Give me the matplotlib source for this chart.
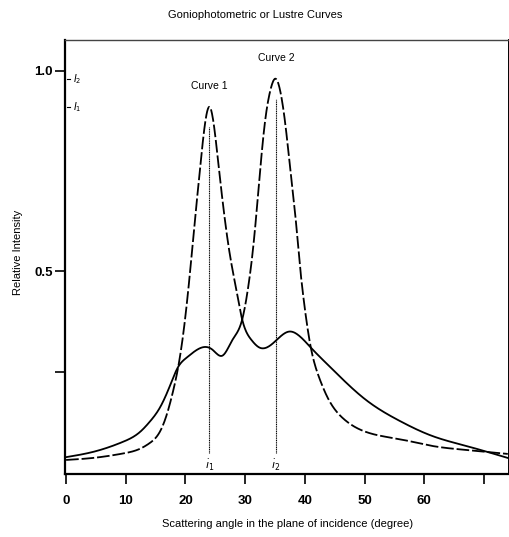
import matplotlib
matplotlib.use("Agg")
import matplotlib.pyplot as plt
import numpy as np

plt.rcParams['font.family'] = ['Liberation Sans Narrow', 'Liberation Sans', 'DejaVu Sans']

# Curve 1: sharp peak at i1, broad hump on the right
c1_x = [0, 4.5, 9.5, 12.4, 14, 15.7, 16.8, 17.9, 18.7, 19.5, 20.3, 21.0, 21.6, 22.4, 23.2,
        24.0, 24.8, 25.5, 26.3, 27.4, 28.5, 29.5, 31.0, 32.4, 34.6, 37.4, 39.0, 41.0, 44.0,
        50.2, 55.8, 61.3, 67.0, 74.0]
c1_y = [0.03, 0.035, 0.046, 0.058, 0.072, 0.10, 0.14, 0.20, 0.255, 0.33, 0.43, 0.535, 0.63,
        0.75, 0.86, 0.91, 0.86, 0.77, 0.665, 0.545, 0.455, 0.38, 0.33, 0.31, 0.32, 0.35,
        0.34, 0.31, 0.265, 0.18, 0.128, 0.09, 0.065, 0.035]

# Curve 2: broad hump on the left, sharp peak at i2
c2_x = [0, 4.5, 9.5, 12.4, 14.0, 15.7, 17.4, 18.7, 20.2, 22.7, 24.5, 26.2, 27.9, 29.5,
        30.5, 31.2, 31.8, 32.5, 33.3, 34.2, 35.1, 36.0, 36.7, 37.6, 38.4, 39.0, 39.8, 41.0,
        42.4, 44.0, 46.3, 50.2, 55.8, 61.3, 67.0, 74.0]
c2_y = [0.037, 0.05, 0.075, 0.10, 0.125, 0.16, 0.215, 0.26, 0.285, 0.31, 0.305, 0.29, 0.33,
        0.38, 0.46, 0.54, 0.63, 0.75, 0.87, 0.95, 0.98, 0.94, 0.87, 0.75, 0.64, 0.54, 0.43,
        0.31, 0.235, 0.18, 0.135, 0.10, 0.082, 0.065, 0.055, 0.045]

curve_labels = ["Curve 1", "Curve 2"]
peak_angles = [24.0, 35.1]
peak_labels = [r"$\dot{\imath}_1$", r"$\dot{\imath}_2$"]
intensity_labels = [r"$I_1$", r"$I_2$"]
x_ticks = [0, 10, 20, 30, 40, 50, 60, 70]
x_ticklabels = ["0", "10", "20", "30", "40", "50", "60", ""]
y_ticks = [0.25, 0.5, 1.0]
y_ticklabels = ["", "0.5", "1.0"]
split_angle = 29.5

fig = plt.figure(figsize=(5.10, 5.37), dpi=100)
W, H = 510, 537
ax = fig.add_axes([65.5 / W, 1 - 474 / H, (509 - 65.5) / W, (474 - 40) / H])
ax.set_xlim(-0.1, 74.2)
ax.set_ylim(-0.005, 1.0765)


def smooth(xs, ys, n=1200):
    """Natural cubic spline through the read points."""
    xs = np.asarray(xs, float)
    ys = np.asarray(ys, float)
    N = len(xs)
    h = np.diff(xs)
    A = np.zeros((N, N))
    b = np.zeros(N)
    A[0, 0] = 1
    A[-1, -1] = 1
    for i in range(1, N - 1):
        A[i, i - 1] = h[i - 1]
        A[i, i] = 2 * (h[i - 1] + h[i])
        A[i, i + 1] = h[i]
        b[i] = 6 * ((ys[i + 1] - ys[i]) / h[i] - (ys[i] - ys[i - 1]) / h[i - 1])
    M = np.linalg.solve(A, b)
    xf = np.linspace(xs[0], xs[-1], n)
    idx = np.clip(np.searchsorted(xs, xf) - 1, 0, N - 2)
    x0, x1 = xs[idx], xs[idx + 1]
    hh = h[idx]
    yf = (M[idx] * (x1 - xf) ** 3 / (6 * hh) + M[idx + 1] * (xf - x0) ** 3 / (6 * hh)
          + (ys[idx] / hh - M[idx] * hh / 6) * (x1 - xf)
          + (ys[idx + 1] / hh - M[idx + 1] * hh / 6) * (xf - x0))
    return xf, yf


lw = 1.3
dash = (7, 1.6)
x1, y1 = smooth(c1_x, c1_y)
x2, y2 = smooth(c2_x, c2_y)
ax.plot(x1[x1 <= split_angle + 0.05], y1[x1 <= split_angle + 0.05], color='black', lw=lw, dashes=dash)
ax.plot(x1[x1 >= split_angle], y1[x1 >= split_angle], color='black', lw=lw)
ax.plot(x2[x2 <= split_angle + 0.05], y2[x2 <= split_angle + 0.05], color='black', lw=lw)
ax.plot(x2[x2 >= split_angle], y2[x2 >= split_angle], color='black', lw=lw, dashes=dash)

# peak markers
peaks = [max(c1_y), max(c2_y)]
for a, p, lab in zip(peak_angles, peaks, peak_labels):
    ax.plot([a, a], [0.048, p - 0.05], color='black', lw=0.8, ls=(0, (1, 0.6)))
    ax.text(a, 0.035, lab, ha='center', va='top', fontsize=8)

ax.text(peak_angles[0], peaks[0] + 0.04, curve_labels[0], ha='center', va='bottom', fontsize=7.5)
ax.text(peak_angles[1] + 0.2, peaks[1] + 0.04, curve_labels[1], ha='center', va='bottom', fontsize=7.5)

for p, lab in zip(peaks, intensity_labels):
    ax.plot([0.2, 0.7], [p, p], color='black', lw=0.8)
    ax.text(1.2, p, lab, ha='left', va='center', fontsize=7)

ax.set_xticks(x_ticks)
ax.set_xticklabels(x_ticklabels, fontsize=9.5, fontweight='bold')
ax.set_yticks(y_ticks)
ax.set_yticklabels(y_ticklabels, fontsize=9.5, fontweight='bold')
ax.tick_params(axis='both', direction='out', length=7, width=1.2, pad=8)
ax.tick_params(axis='y', pad=2)

for s in ['left', 'bottom']:
    ax.spines[s].set_linewidth(1.6)
ax.spines['top'].set_linewidth(1.0)
ax.spines['top'].set_color('#444444')
ax.spines['right'].set_linewidth(1.4)

fig.text(255 / W, 1 - 15 / H, "Goniophotometric or Lustre Curves", ha='center', va='center', fontsize=8)
fig.text(288 / W, 1 - 524 / H, "Scattering angle in the plane of incidence (degree)",
         ha='center', va='center', fontsize=8)
fig.text(18 / W, 1 - 252 / H, "Relative Intensity", ha='center', va='center', rotation=90, fontsize=8)

fig.savefig("out.png", dpi=100)
